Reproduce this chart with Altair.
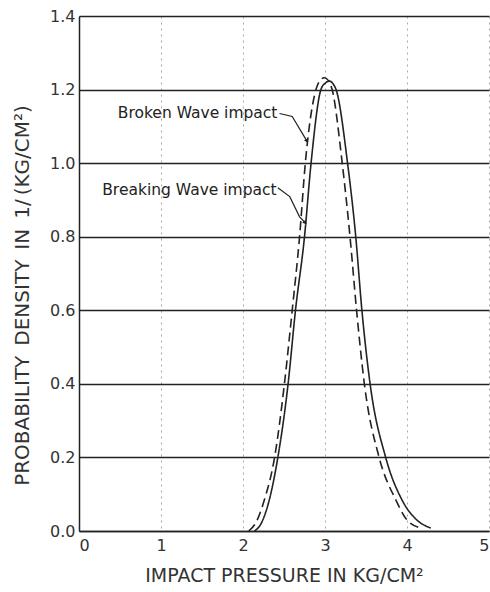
import altair as alt
import pandas as pd

# Probability density curves (impact pressure in kg/cm^2 vs density)
breaking_x = [2.14, 2.22, 2.32, 2.425, 2.55, 2.64, 2.75, 2.83, 2.95, 3.00, 3.055, 3.10, 3.135, 3.275, 3.375, 3.45, 3.55, 3.74, 3.94, 4.12, 4.29]
breaking_y = [0.0, 0.02, 0.084, 0.2, 0.4, 0.6, 0.8, 1.0, 1.2, 1.217, 1.223, 1.215, 1.2, 1.0, 0.8, 0.6, 0.4, 0.2, 0.084, 0.03, 0.008]

broken_x = [2.07, 2.15, 2.26, 2.385, 2.505, 2.60, 2.69, 2.76, 2.89, 2.94, 2.99, 3.04, 3.087, 3.21, 3.305, 3.385, 3.48, 3.66, 3.865, 4.00, 4.17]
broken_y = [0.0, 0.02, 0.084, 0.2, 0.4, 0.6, 0.8, 1.0, 1.2, 1.225, 1.232, 1.225, 1.2, 1.0, 0.8, 0.6, 0.4, 0.2, 0.084, 0.03, 0.008]

# Curve labels and their leader lines
label_names = ["Broken Wave impact", "Breaking Wave impact"]
label_x = [2.42, 2.41]
label_y = [1.135, 0.928]

broken_leader_x = [2.445, 2.60, 2.78]
broken_leader_y = [1.135, 1.127, 1.06]
breaking_leader_x = [2.425, 2.57, 2.69, 2.76]
breaking_leader_y = [0.933, 0.909, 0.854, 0.838]

# arrow tips at the curve end of each leader
tip_x = [2.78, 2.76]
tip_y = [1.06, 0.838]
tip_angle = [154, 140]

x_ticks = [0, 1, 2, 3, 4, 5]
y_ticks = [0.0, 0.2, 0.4, 0.6, 0.8, 1.0, 1.2, 1.4]

# axis titles, lettered with slightly wide word gaps
x_title = "IMPACT PRESSURE IN KG/CM²"
y_title = "PROBABILITY\u2002DENSITY\u2002IN\u20021/\u2009(KG/CM²)"

INK = "#222222"
LABEL_INK = "#333333"
FONT = "DejaVu Sans"

curves = pd.concat([
    pd.DataFrame({"p": breaking_x, "d": breaking_y, "series": "Breaking", "i": range(len(breaking_x))}),
    pd.DataFrame({"p": broken_x, "d": broken_y, "series": "Broken", "i": range(len(broken_x))}),
])

leaders = pd.concat([
    pd.DataFrame({"p": broken_leader_x, "d": broken_leader_y, "series": "Broken", "i": range(len(broken_leader_x))}),
    pd.DataFrame({"p": breaking_leader_x, "d": breaking_leader_y, "series": "Breaking", "i": range(len(breaking_leader_x))}),
])

labels = pd.DataFrame({"p": label_x, "d": label_y, "text": label_names})
tips = pd.DataFrame({"p": tip_x, "d": tip_y, "a": tip_angle})

xscale = alt.Scale(domain=[0, 5], nice=False, zero=False)
yscale = alt.Scale(domain=[0, 1.4], nice=False)

xaxis = alt.Axis(
    values=x_ticks, format="d", title=x_title,
    grid=True, gridColor="#a8a8a8", gridDash=[2, 4], gridWidth=1,
    ticks=False, labelPadding=6, titlePadding=13, titleFontSize=19,
    domainColor=INK, domainWidth=1.5,
)
yaxis = alt.Axis(
    values=y_ticks, format=".1f", title=y_title,
    grid=True, gridColor=INK, gridWidth=1.4,
    ticks=False, labelPadding=4, titlePadding=17, titleFontSize=20,
    titleY=279,
    domainColor=INK, domainWidth=1.5,
)

base = alt.Chart(curves).encode(
    x=alt.X("p:Q", scale=xscale, axis=xaxis),
    y=alt.Y("d:Q", scale=yscale, axis=yaxis),
    order="i:Q",
)

lines = base.mark_line(color=INK, strokeWidth=1.6, interpolate="monotone").encode(
    strokeDash=alt.StrokeDash(
        "series:N",
        scale=alt.Scale(domain=["Breaking", "Broken"], range=[[1, 0], [9, 5]]),
        legend=None,
    ),
    detail="series:N",
)

leader_lines = alt.Chart(leaders).mark_line(color=INK, strokeWidth=1.2).encode(
    x=alt.X("p:Q", scale=xscale),
    y=alt.Y("d:Q", scale=yscale),
    detail="series:N",
    order="i:Q",
)

arrow_tips = alt.Chart(tips).mark_point(
    shape="triangle-up", filled=True, color=INK, size=22, opacity=1
).encode(
    x=alt.X("p:Q", scale=xscale),
    y=alt.Y("d:Q", scale=yscale),
    angle=alt.Angle("a:Q", scale=None),
)

label_text = alt.Chart(labels).mark_text(
    align="right", baseline="middle", font=FONT, fontSize=15.5, color=INK
).encode(
    x=alt.X("p:Q", scale=xscale),
    y=alt.Y("d:Q", scale=yscale),
    text="text:N",
)

chart = (
    alt.layer(lines, leader_lines, arrow_tips, label_text)
    .properties(
        width=410,
        height=515,
        autosize=alt.AutoSizeParams(type="none"),
        padding={"left": 79, "top": 16, "right": 1, "bottom": 61},
        background="white",
    )
    .configure_view(stroke=None)
    .configure_axis(
        labelFont=FONT, titleFont=FONT, labelColor=LABEL_INK, titleColor=LABEL_INK,
        labelFontSize=16, titleFontWeight="normal",
    )
)

chart.save("out.html", embed_options={"renderer": "svg", "actions": False})
